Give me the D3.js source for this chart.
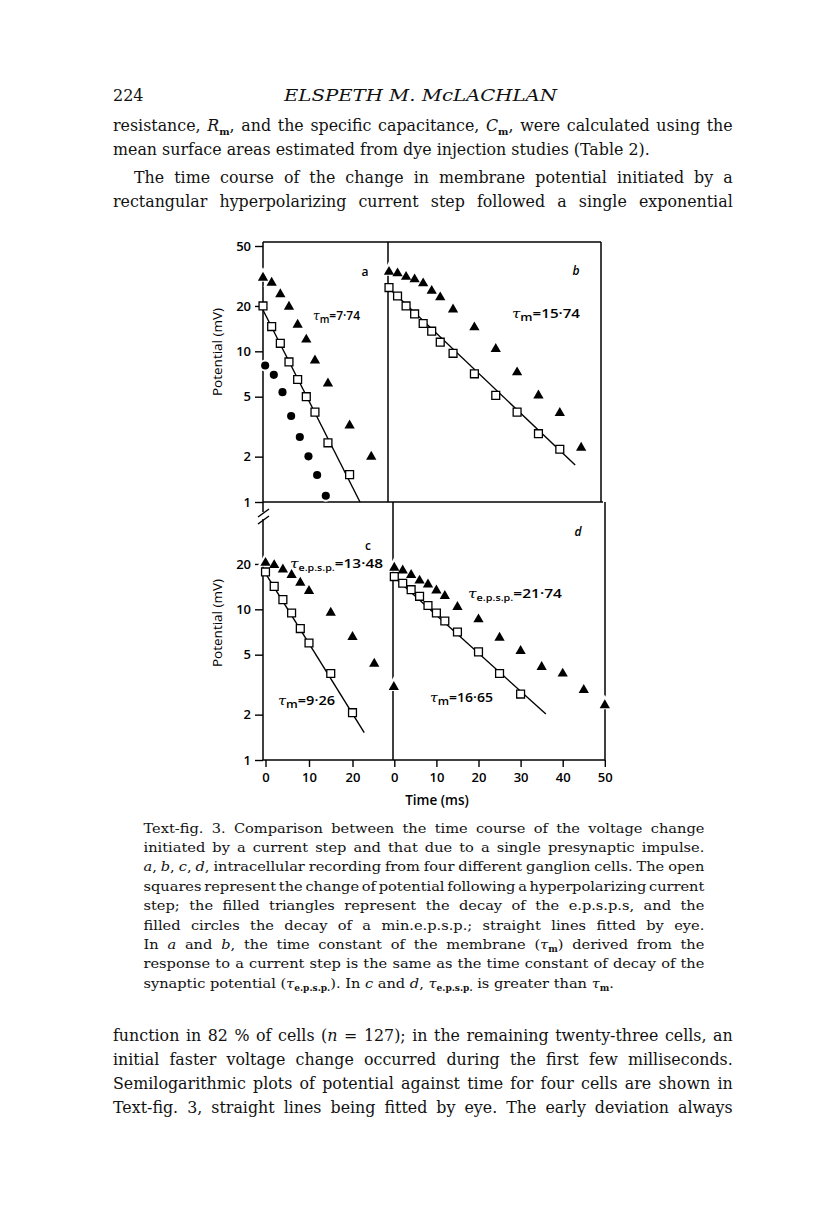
<!DOCTYPE html>
<html>
<head>
<meta charset="utf-8">
<script src="https://cdn.jsdelivr.net/npm/d3@7"></script>
<style>
  html, body { margin: 0; padding: 0; background: #fff; }
</style>
</head>
<body>
<svg></svg>
<script>
var width = 816;
var height = 1221;

// --- values (potential in mV, time in ms) ---
// a
var aStepT = [0, 2, 4, 6, 8, 10, 12, 15, 20];
var aStepV = [20.0, 14.6, 11.3, 8.5, 6.5, 5.0, 3.95, 2.47, 1.52];
var aEpspT = [0, 2, 4, 6, 8, 10, 12, 15, 20, 25];
var aEpspV = [31.2, 28.9, 24.2, 20.0, 15.2, 12.1, 8.8, 6.2, 3.26, 2.02];
var aMiniT = [0.5, 2.5, 4.5, 6.5, 8.5, 10.5, 12.5, 14.5];
var aMiniV = [8.05, 6.98, 5.36, 3.72, 2.70, 2.01, 1.51, 1.10];
var aFitT = [0, 22.4];
var aFitV = [18.8, 1.0];
// b
var bStepT = [0, 2, 4, 6, 8, 10, 12, 15, 20, 25, 30, 35, 40];
var bStepV = [26.5, 23.3, 20.0, 17.7, 15.3, 13.6, 11.5, 9.7, 7.09, 5.10, 3.95, 2.84, 2.24];
var bEpspT = [0, 2, 4, 6, 8, 10, 12, 15, 20, 25, 30, 35, 40, 45];
var bEpspV = [34.1, 33.3, 31.6, 30.4, 28.6, 25.5, 23.1, 19.2, 14.6, 10.5, 7.34, 5.15, 3.95, 2.32];
var bFitT = [0, 43.6];
var bFitV = [26.2, 1.76];
// c
var cStepT = [0, 2, 4, 6, 8, 10, 15, 20];
var cStepV = [17.7, 14.2, 11.6, 9.45, 7.45, 5.98, 3.75, 2.06];
var cEpspT = [0, 2, 4, 6, 8, 10, 15, 20, 25, 29.5];
var cEpspV = [20.6, 19.9, 18.6, 17.1, 15.2, 13.4, 9.6, 6.63, 4.41, 3.09];
var cFitT = [0, 22.7];
var cFitV = [17.3, 1.52];
// d
var dStepT = [0, 2, 4, 6, 8, 10, 12, 15, 20, 25, 30];
var dStepV = [16.5, 14.9, 13.5, 12.2, 10.6, 9.45, 8.37, 7.07, 5.22, 3.75, 2.74];
var dEpspT = [0, 2, 4, 6, 8, 10, 12, 15, 20, 25, 30, 35, 40, 45, 50];
var dEpspV = [19.1, 18.3, 17.1, 15.7, 14.8, 13.5, 12.4, 10.5, 8.68, 6.56, 5.35, 4.19, 3.79, 2.95, 2.34];
var dFitT = [0, 36.0];
var dFitV = [16.3, 2.02];

var yTicksTop = [1, 2, 5, 10, 20, 50];
var yTicksBottom = [1, 2, 5, 10, 20];
var xTicksC = [0, 10, 20];
var xTicksD = [0, 10, 20, 30, 40, 50];

var tauLabels = [
    { panel: 'a', sub: 'm', val: '7·74' },
    { panel: 'b', sub: 'm', val: '15·74' },
    { panel: 'c', sub: 'e.p.s.p.', val: '13·48' },
    { panel: 'c', sub: 'm', val: '9·26' },
    { panel: 'd', sub: 'e.p.s.p.', val: '21·74' },
    { panel: 'd', sub: 'm', val: '16·65' }
];

function pts(T, V) {
    return T.map(function (t, i) { return { t: t, v: V[i] }; });
}

var svg = d3.select('svg')
    .attr('width', width)
    .attr('height', height)
    .attr('xmlns', 'http://www.w3.org/2000/svg')
    .attr('viewBox', '0 0 ' + width + ' ' + height);

svg.append('rect').attr('width', width).attr('height', height).attr('fill', '#fff');

// scales
var yTop = d3.scaleLog().domain([1, 50]).range([502, 246]);
var yBot = d3.scaleLog().domain([1, 50]).range([760, 504]);
var xA = d3.scaleLinear().domain([0, 10]).range([263, 306.3]);
var xB = d3.scaleLinear().domain([0, 10]).range([389, 431.7]);
var xC = d3.scaleLinear().domain([0, 10]).range([265.5, 309]);
var xD = d3.scaleLinear().domain([0, 10]).range([394.3, 436.4]);

var panels = {
    a: { x: xA, y: yTop, step: pts(aStepT, aStepV), epsp: pts(aEpspT, aEpspV), mini: pts(aMiniT, aMiniV), fit: pts(aFitT, aFitV) },
    b: { x: xB, y: yTop, step: pts(bStepT, bStepV), epsp: pts(bEpspT, bEpspV), mini: [], fit: pts(bFitT, bFitV) },
    c: { x: xC, y: yBot, step: pts(cStepT, cStepV), epsp: pts(cEpspT, cEpspV), mini: [], fit: pts(cFitT, cFitV) },
    d: { x: xD, y: yBot, step: pts(dStepT, dStepV), epsp: pts(dEpspT, dEpspV), mini: [], fit: pts(dFitT, dFitV) }
};

var fig = svg.append('g')
    .attr('font-family', "'Open Sans', sans-serif")
    .attr('font-weight', 600);

// frame
var left = 263, topY = 242, midY = 502, botY = 760;
var frame = [
    [[left, topY], [601, topY]],
    [[601, topY], [601, midY]],
    [[left, midY], [603, midY]],
    [[605, midY], [605, botY]],
    [[left, botY], [605, botY]],
    [[left, topY], [left, 512]],
    [[left, 519], [left, botY]],
    [[388, topY], [388, midY]],
    [[393, midY], [393, botY]]
];
fig.append('g').selectAll('path')
    .data(frame)
    .enter()
    .append('path')
    .attr('d', function (d) { return d3.line()(d); })
    .attr('stroke', '#000')
    .attr('stroke-width', 1.5)
    .attr('fill', 'none');

// axis break marks
fig.append('g').selectAll('path')
    .data([0, 7])
    .enter()
    .append('path')
    .attr('d', function (d) { return 'M258,' + (517 + d) + 'L269,' + (509 + d); })
    .attr('stroke', '#000')
    .attr('stroke-width', 1.4);

// axes
function styleAxis(g) {
    g.select('.domain').remove();
    g.attr('font-size', 13).attr('font-family', "'Open Sans', sans-serif");
    g.selectAll('line').attr('stroke-width', 1.4);
}
fig.append('g')
    .attr('transform', 'translate(' + left + ',0)')
    .call(d3.axisLeft(yTop).tickValues(yTicksTop).tickFormat(d3.format('d')).tickSize(8).tickPadding(4))
    .call(styleAxis);
fig.append('g')
    .attr('transform', 'translate(' + left + ',0)')
    .call(d3.axisLeft(yBot).tickValues(yTicksBottom).tickFormat(d3.format('d')).tickSize(8).tickPadding(4))
    .call(styleAxis);
fig.append('g')
    .attr('transform', 'translate(0,' + botY + ')')
    .call(d3.axisBottom(xC).tickValues(xTicksC).tickSize(7).tickPadding(6))
    .call(styleAxis);
fig.append('g')
    .attr('transform', 'translate(0,' + botY + ')')
    .call(d3.axisBottom(xD).tickValues(xTicksD).tickSize(7).tickPadding(6))
    .call(styleAxis);

// axis titles
[352, 623].forEach(function (cy) {
    fig.append('text')
        .attr('transform', 'translate(222,' + cy + ') rotate(-90)')
        .attr('text-anchor', 'middle')
        .attr('font-size', 13.5)
        .attr('font-weight', 500)
        .text('Potential (mV)');
});
fig.append('text')
    .attr('x', 437)
    .attr('y', 805)
    .attr('text-anchor', 'middle')
    .attr('font-size', 13.5)
    .text('Time (ms)');

var triangle = d3.symbol().type(d3.symbolTriangle).size(46);
var triHalo = d3.symbol().type(d3.symbolTriangle).size(120);
var square = d3.symbol().type(d3.symbolSquare).size(62);
var circle = d3.symbol().type(d3.symbolCircle).size(52);
var circHalo = d3.symbol().type(d3.symbolCircle).size(110);

var keys = ['a', 'b', 'c', 'd'];

function pos(p) {
    return function (d) {
        return 'translate(' + p.x(d.t) + ',' + p.y(d.v) + ')';
    };
}

// white halos that break the axis lines under filled markers
keys.forEach(function (k) {
    var p = panels[k];
    var g = fig.append('g');
    g.selectAll('.th').data(p.epsp).enter().append('path')
        .attr('d', triHalo).attr('fill', '#fff').attr('transform', pos(p));
    g.selectAll('.ch').data(p.mini).enter().append('path')
        .attr('d', circHalo).attr('fill', '#fff').attr('transform', pos(p));
});

keys.forEach(function (k) {
    var p = panels[k];
    var g = fig.append('g');

    g.append('path')
        .datum(p.fit)
        .attr('d', d3.line().x(function (d) { return p.x(d.t); }).y(function (d) { return p.y(d.v); }))
        .attr('stroke', '#000')
        .attr('stroke-width', 1.4)
        .attr('fill', 'none');

    g.selectAll('.sq').data(p.step).enter().append('path')
        .attr('d', square)
        .attr('fill', '#fff')
        .attr('stroke', '#000')
        .attr('stroke-width', 1.3)
        .attr('transform', pos(p));

    g.selectAll('.tr').data(p.epsp).enter().append('path')
        .attr('d', triangle)
        .attr('fill', '#000')
        .attr('transform', function (d) {
            return 'translate(' + p.x(d.t) + ',' + (p.y(d.v) + 0.8) + ')';
        });

    g.selectAll('.ci').data(p.mini).enter().append('path')
        .attr('d', circle)
        .attr('fill', '#000')
        .attr('transform', pos(p));
});

// panel letters
var letters = [
    { k: 'a', x: 365, y: 276, it: false },
    { k: 'b', x: 576, y: 275, it: true },
    { k: 'c', x: 368, y: 549.5, it: false },
    { k: 'd', x: 578, y: 536, it: true }
];
fig.selectAll('.letter')
    .data(letters)
    .enter()
    .append('text')
    .attr('x', function (d) { return d.x; })
    .attr('y', function (d) { return d.y; })
    .attr('text-anchor', 'middle')
    .attr('font-size', 12)
    .attr('font-style', function (d) { return d.it ? 'italic' : 'normal'; })
    .text(function (d) { return d.k; });

// time-constant labels
var tauPos = [
    { x: 313, y: 320, w: 47 },
    { x: 512, y: 318, w: 68 },
    { x: 290, y: 568, w: 93 },
    { x: 278, y: 705, w: 57 },
    { x: 468, y: 598, w: 94 },
    { x: 430, y: 702, w: 63 }
];
tauLabels.forEach(function (d, i) {
    var p = tauPos[i];
    var t = fig.append('text')
        .attr('x', p.x)
        .attr('y', p.y)
        .attr('font-size', 13);
    t.append('tspan')
        .attr('font-family', 'DejaVu Serif')
        .attr('font-style', 'italic')
        .attr('font-weight', 400)
        .text('τ');
    t.append('tspan')
        .attr('font-size', d.sub.length > 1 ? 9 : 11)
        .attr('dy', 3)
        .text(d.sub);
    t.append('tspan')
        .attr('dy', -3)
        .text('=' + d.val);
    t.attr('textLength', p.w).attr('lengthAdjust', 'spacingAndGlyphs');
});

// --- page text ---
var pageFont = "'DejaVu Serif', serif";
var headerLine = { x: 284, y: 101, w: 273, text: 'ELSPETH M. McLACHLAN' };
var bodyTop = [
    { x: 113, y: 131, w: 620, j: true, segs: [['resistance, '], ['R', 'i'], ['m', 's'], [', and the specific capacitance, '], ['C', 'i'], ['m', 's'], [', were calculated using the']] },
    { x: 113, y: 155, w: 537, j: false, segs: [['mean surface areas estimated from dye injection studies (Table 2).']] },
    { x: 134, y: 183, w: 599, j: true, segs: [['The time course of the change in membrane potential initiated by a']] },
    { x: 113, y: 207, w: 620, j: true, segs: [['rectangular hyperpolarizing current step followed a single exponential']] }
];
var caption = [
    { j: true, segs: [['Text-fig. 3. Comparison between the time course of the voltage change']] },
    { j: true, segs: [['initiated by a current step and that due to a single presynaptic impulse.']] },
    { j: true, segs: [['a', 'i'], [', '], ['b', 'i'], [', '], ['c', 'i'], [', '], ['d', 'i'], [', intracellular recording from four different ganglion cells. The open']] },
    { j: true, segs: [['squares represent the change of potential following a hyperpolarizing current']] },
    { j: true, segs: [['step; the filled triangles represent the decay of the e.p.s.p.s, and the']] },
    { j: true, segs: [['filled circles the decay of a min.e.p.s.p.; straight lines fitted by eye.']] },
    { j: true, segs: [['In '], ['a', 'i'], [' and '], ['b', 'i'], [', the time constant of the membrane ('], ['τ', 'i'], ['m', 's'], [') derived from the']] },
    { j: true, segs: [['response to a current step is the same as the time constant of decay of the']] },
    { j: false, segs: [['synaptic potential ('], ['τ', 'i'], ['e.p.s.p.', 's'], ['). In '], ['c', 'i'], [' and '], ['d', 'i'], [', '], ['τ', 'i'], ['e.p.s.p.', 's'], [' is greater than '], ['τ', 'i'], ['m', 's'], ['.']] }
];
var bodyBottom = [
    { segs: [['function in 82 % of cells ('], ['n', 'i'], [' = 127); in the remaining twenty-three cells, an']] },
    { segs: [['initial faster voltage change occurred during the first few milliseconds.']] },
    { segs: [['Semilogarithmic plots of potential against time for four cells are shown in']] },
    { segs: [['Text-fig. 3, straight lines being fitted by eye. The early deviation always']] }
];

var page = svg.append('g').attr('font-family', pageFont).attr('fill', '#111');

function makeLine(size, segs) {
    var t = page.append('text').attr('x', 0).attr('y', 0).attr('font-size', size);
    var shifted = 0;
    var spaces = 0;
    segs.forEach(function (s) {
        var ts = t.append('tspan').text(s[0]);
        spaces += (s[0].match(/ /g) || []).length;
        var dy = 0;
        if (s[1] === 's') {
            ts.attr('font-size', size * 0.62).attr('font-weight', 600);
            dy = size * 0.25 - shifted;
            shifted = size * 0.25;
        } else {
            dy = -shifted;
            shifted = 0;
        }
        if (dy) ts.attr('dy', dy);
        if (s[1] === 'i') ts.attr('font-style', 'italic');
    });
    return { t: t, nat: t.node().getComputedTextLength(), spaces: spaces };
}

// glyphs scaled by s; justified lines filled out through word spacing
function place(line, x, y, s, target, justify) {
    if (justify) {
        var ws = (target / s - line.nat) / Math.max(1, line.spaces);
        line.t.style('word-spacing', ws + 'px');
    }
    line.t.attr('transform', 'translate(' + x + ',' + y + ') scale(' + s + ',1)');
}

function clamp(s) { return Math.max(0.92, Math.min(1.08, s)); }

page.append('text').attr('x', 113).attr('y', 101).attr('font-size', 16).text('224');
page.append('text')
    .attr('x', headerLine.x).attr('y', headerLine.y)
    .attr('font-size', 16).attr('font-style', 'italic')
    .attr('textLength', headerLine.w).attr('lengthAdjust', 'spacingAndGlyphs')
    .text(headerLine.text);

var topLines = bodyTop.map(function (l) { return makeLine(16, l.segs); });
var bodyScale = clamp(bodyTop[1].w / topLines[1].nat);
topLines.forEach(function (line, i) {
    var l = bodyTop[i];
    place(line, l.x, l.y, bodyScale, l.w, l.j);
});

var capLines = caption.map(function (l) { return makeLine(13.5, l.segs); });
var capScale = clamp(482 / capLines[capLines.length - 1].nat);
capLines.forEach(function (line, i) {
    place(line, 143.5, 832.5 + i * 19.4, capScale, 561, caption[i].j);
});

bodyBottom.forEach(function (l, i) {
    place(makeLine(16, l.segs), 113, 1041 + i * 24, bodyScale, 620, true);
});
</script>
</body>
</html>
